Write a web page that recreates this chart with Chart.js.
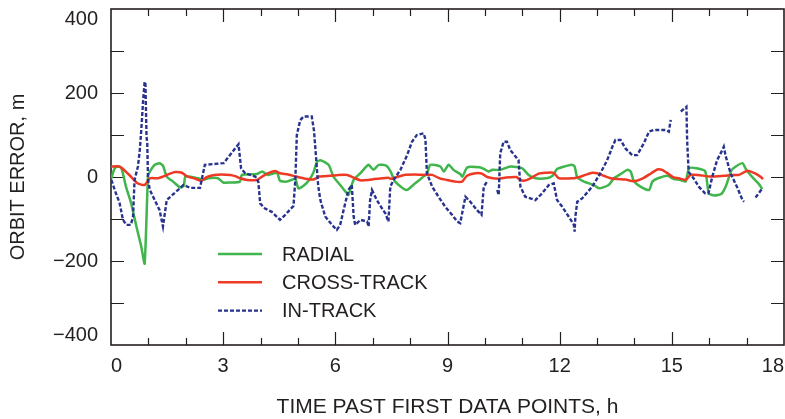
<!DOCTYPE html>
<html lang="en">
<head>
<meta charset="UTF-8">
<title>Orbit Error</title>
<script src="https://cdn.jsdelivr.net/npm/chart.js"></script>
<style>
  body { margin: 0; background: #fff; }
  canvas { display: block; }
</style>
</head>
<body>
<canvas id="orbitChart" width="785" height="419"></canvas>
<script>
// values: hours past first data point, error in m
const radialHours = [0.01,0.10,0.19,0.28,0.40,0.54,0.68,0.81,0.90,0.99,
  1.04,1.17,1.30,1.39,1.49,1.66,1.85,1.95,1.99,2.33,
  2.46,2.60,2.86,3.00,3.19,3.45,3.50,3.90,4.04,4.21,
  4.44,4.52,4.70,4.93,5.01,5.15,5.30,5.42,5.51,5.60,
  5.82,5.95,6.13,6.31,6.35,6.49,6.67,6.89,7.02,7.16,
  7.36,7.48,7.60,7.90,8.11,8.45,8.54,8.81,8.90,9.03,
  9.16,9.34,9.40,9.53,9.85,9.98,10.10,10.20,10.41,10.68,
  10.99,11.17,11.35,11.65,11.81,11.93,12.13,12.32,12.40,12.47,
  12.65,12.91,13.05,13.31,13.45,13.63,13.81,13.90,13.98,14.16,
  14.39,14.48,14.63,14.89,15.05,15.23,15.37,15.46,15.66,15.89,
  15.99,16.14,16.33,16.45,16.59,16.71,16.89,16.99,17.16,17.33,
  17.42];
const radialErr = [-3,21,25,21,-23,-63,-118,-166,-206,3,
  13,29,33,27,1,-11,-25,-20,1,-3,
  -7,-3,-3,-13,-13,-11,5,7,13,5,
  10,-9,-11,-5,-27,-21,-7,12,36,40,
  29,1,-19,-39,-43,-7,9,29,17,29,
  27,13,-11,-31,-17,9,29,25,13,29,
  17,7,1,23,23,19,13,17,17,25,
  21,5,-3,-3,3,19,25,29,25,-1,
  -11,-19,-27,-19,-3,7,17,13,-9,-23,
  -31,-11,-3,3,-5,-7,-11,21,21,14,
  -39,-44,-40,-21,15,25,33,17,-1,-17,
  -29];

const crossHours = [0,0.23,0.37,0.51,0.71,0.90,1.04,1.26,1.39,1.58,
  1.71,1.90,2.02,2.25,2.41,2.57,2.76,3.19,3.32,3.45,
  3.64,3.90,4.04,4.21,4.39,4.52,4.74,4.95,5.09,5.24,
  5.41,5.57,5.86,6.08,6.32,6.53,6.67,6.89,7.04,7.25,
  7.42,7.47,7.62,7.84,8.13,8.41,8.59,8.81,8.99,9.21,
  9.39,9.52,9.75,9.92,10.06,10.37,10.57,10.84,10.95,11.04,
  11.22,11.44,11.62,11.84,11.98,12.38,12.48,12.69,12.87,13.00,
  13.18,13.36,13.54,13.76,13.98,14.21,14.45,14.61,14.74,14.90,
  15.05,15.19,15.37,15.50,15.69,16.03,16.39,16.63,16.80,17.02,
  17.24,17.38,17.44];
const crossErr = [25,25,15,3,-15,-19,-3,-3,1,8,
  12,10,2,-4,-9,0,5,5,2,-3,
  -7,-7,1,9,14,9,6,1,-2,-5,
  -6,1,3,5,5,-3,-8,-7,-5,-3,
  -2,-4,-1,5,6,5,5,-4,-7,-11,
  -11,3,9,8,0,-4,-1,0,-7,-9,
  -3,8,10,10,-3,-3,-1,5,10,9,
  3,-3,-5,-6,-10,-4,9,18,17,8,
  -1,-3,-7,5,5,1,3,5,5,15,
  8,0,-5];

const inTrackHours = [0.01,0.10,0.23,0.32,0.41,0.53,0.59,0.63,0.72,0.77,
  0.81,0.86,0.90,0.92,0.95,0.97,0.99,1.04,1.17,1.30,
  1.39,1.49,1.94,2.12,2.38,2.51,3.01,3.41,3.48,3.59,
  3.86,3.94,3.99,4.12,4.30,4.52,4.66,4.88,4.93,4.97,
  5.06,5.15,5.37,5.43,5.49,5.54,5.60,5.73,5.91,6.04,
  6.13,6.22,6.35,6.44,6.49,6.53,6.67,6.85,6.89,6.93,
  6.98,7.11,7.25,7.34,7.42,7.47,7.56,7.74,7.92,8.05,
  8.18,8.36,8.41,8.45,8.59,8.76,8.94,9.12,9.26,9.34,
  9.39,9.48,9.61,9.79,9.91,9.97,10.06,10.2,10.33,10.37,
  10.41,10.50,10.59,10.68,10.90,10.95,11.08,11.35,11.53,11.71,
  11.84,11.93,12.07,12.24,12.38,12.40,12.42,12.47,12.60,12.87,
  13.09,13.27,13.41,13.49,13.63,13.76,13.94,14.07,14.25,14.39,
  14.52,14.83,14.92,14.97,15.1,15.24,15.39,15.41,15.45,15.58,
  15.72,15.89,15.98,16.08,16.21,16.35,16.39,16.44,16.57,16.75,
  16.89,16.93,17.1,17.24,17.42];
const inTrackErr = [-7,-31,-62,-102,-114,-114,-94,-7,25,64,
  112,183,227,224,96,80,-7,-31,-55,-79,
  -118,-55,-19,-26,-26,29,33,78,20,9,
  1,-11,-63,-75,-83,-102,-90,-69,-7,100,
  135,144,144,110,40,-20,-55,-94,-114,-126,
  -114,-79,-31,-19,-94,-114,-102,-106,-118,-55,
  -31,-55,-75,-87,-106,-23,-7,17,52,84,
  100,104,90,9,-23,-47,-71,-90,-106,-110,
  -87,-47,-59,-79,-90,-23,-11,null,-31,-43,
  56,84,84,64,40,-23,-47,-55,-39,-19,
  -15,-55,-71,-94,-114,-130,-94,-59,-51,-23,
  9,40,72,88,88,68,52,52,80,108,
  112,112,108,136,null,156,167,86,12,-3,
  -23,-39,-39,0,40,64,72,50,9,-25,
  -55,-59,null,-49,-27];

const seriesNames = ['RADIAL', 'CROSS-TRACK', 'IN-TRACK'];
const xTicks = [0, 3, 6, 9, 12, 15, 18];
const yTicks = [-400, -200, 0, 200, 400];

const INK = '#231f20';
const FONT = 'Arial, "Liberation Sans", Helvetica, sans-serif';

function toPoints(xs, ys) {
  return xs.map((x, i) => ({ x: x, y: ys[i] }));
}

// frame with inward ticks on all four sides
const framePlugin = {
  id: 'frame',
  beforeDatasetsDraw(chart) {
    const { ctx, chartArea: a, scales } = chart;
    ctx.save();
    ctx.strokeStyle = INK;
    ctx.lineWidth = 1.2;
    ctx.beginPath();
    for (let h = 1; h < 18; h++) {
      const px = Math.round(scales.x.getPixelForValue(h)) + 0.5;
      const len = h % 3 ? 7 : 13;
      ctx.moveTo(px, a.bottom); ctx.lineTo(px, a.bottom - len);
      ctx.moveTo(px, a.top); ctx.lineTo(px, a.top + len);
    }
    for (let v = -300; v <= 300; v += 100) {
      const py = Math.round(scales.y.getPixelForValue(v)) + 0.5;
      ctx.moveTo(a.left, py); ctx.lineTo(a.left + 13, py);
      ctx.moveTo(a.right, py); ctx.lineTo(a.right - 13, py);
    }
    ctx.stroke();
    ctx.lineWidth = 1.6;
    ctx.strokeRect(a.left, a.top, a.right - a.left, a.bottom - a.top);
    ctx.restore();
  },
  afterDatasetsDraw(chart) {
    const { ctx, chartArea: a } = chart;
    ctx.save();
    ctx.font = '20px ' + FONT;
    ctx.textBaseline = 'middle';
    ctx.fillStyle = INK;
    chart.data.datasets.forEach((ds, i) => {
      const y = a.top + 245 + i * 28.3;
      ctx.strokeStyle = ds.borderColor;
      ctx.lineWidth = ds.borderWidth;
      ctx.setLineDash(ds.borderDash || []);
      ctx.beginPath();
      ctx.moveTo(a.left + 107, y);
      ctx.lineTo(a.left + 151, y);
      ctx.stroke();
      ctx.setLineDash([]);
      ctx.fillText(ds.label, a.left + 171, y + 1);
    });
    ctx.restore();
  }
};

new Chart(document.getElementById('orbitChart'), {
  type: 'line',
  data: {
    datasets: [
      {
        label: seriesNames[0],
        data: toPoints(radialHours, radialErr),
        borderColor: '#3fb54c',
        borderWidth: 2.5,
        tension: 0.2,
        order: 2
      },
      {
        label: seriesNames[1],
        data: toPoints(crossHours, crossErr),
        borderColor: '#ee3a24',
        borderWidth: 2.5,
        tension: 0.2,
        order: 1
      },
      {
        label: seriesNames[2],
        data: toPoints(inTrackHours, inTrackErr),
        borderColor: '#28338f',
        borderWidth: 2.4,
        borderDash: [4, 2],
        tension: 0,
        order: 0
      }
    ]
  },
  options: {
    responsive: false,
    animation: false,
    devicePixelRatio: 1,
    layout: { padding: { top: 9, right: 1, left: 0, bottom: 0 } },
    elements: { point: { radius: 0 } },
    plugins: { legend: { display: false }, tooltip: { enabled: false } },
    scales: {
      x: {
        type: 'linear',
        min: 0,
        max: 18,
        afterBuildTicks: s => { s.ticks = xTicks.map(v => ({ value: v })); },
        afterFit: s => { s.height = 74; s.paddingLeft = 0; s.paddingRight = 0; },
        grid: { display: false, drawTicks: false },
        border: { display: false },
        ticks: {
          align: 'inner',
          maxRotation: 0,
          padding: 9,
          color: INK,
          font: { family: FONT, size: 20, lineHeight: 1.2 }
        },
        title: {
          display: true,
          text: 'TIME PAST FIRST DATA POINTS, h',
          color: INK,
          font: { family: FONT, size: 21, lineHeight: 1 },
          padding: { top: 0, bottom: 1 }
        }
      },
      y: {
        min: -400,
        max: 400,
        afterBuildTicks: s => { s.ticks = yTicks.map(v => ({ value: v })); },
        afterFit: s => { s.width = 111; s.paddingTop = 0; s.paddingBottom = 0; },
        grid: { display: false, drawTicks: false },
        border: { display: false },
        ticks: {
          padding: 13,
          color: INK,
          font: { family: FONT, size: 20, lineHeight: 1 },
          // keep the end labels inside the frame, minus sign as in print
          callback: v => {
            const t = String(v).replace('-', '\u2212');
            if (v === 400) return ['', t];
            if (v === -400) return [t, ''];
            return t;
          }
        },
        title: {
          display: true,
          text: 'ORBIT ERROR, m',
          color: INK,
          font: { family: FONT, size: 20, lineHeight: 1 },
          padding: { top: 8, bottom: 0 }
        }
      }
    }
  },
  plugins: [framePlugin]
});
</script>
</body>
</html>
